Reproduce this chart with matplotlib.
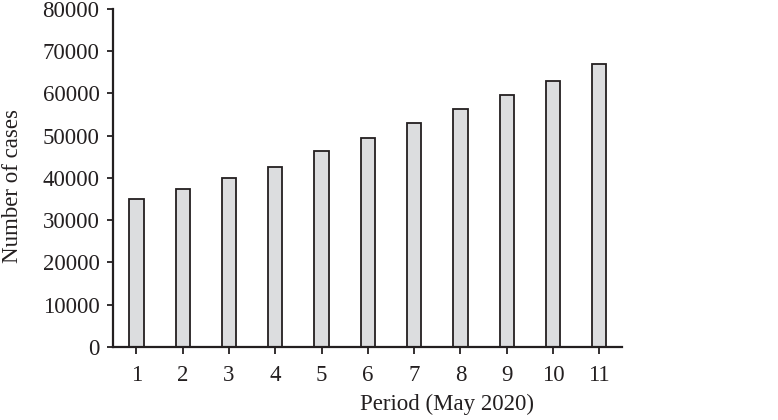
import matplotlib
matplotlib.use("Agg")
import matplotlib.pyplot as plt

periods = [1, 2, 3, 4, 5, 6, 7, 8, 9, 10, 11]
cases = [35000, 37400, 40000, 42600, 46400, 49400, 53000, 56300, 59600, 63000, 67000]
y_ticks = [0, 10000, 20000, 30000, 40000, 50000, 60000, 70000, 80000]

plt.rcParams['font.family'] = ['Liberation Serif', 'DejaVu Serif']

fig = plt.figure(figsize=(7.78, 4.2), dpi=100)
ax = fig.add_axes([0.145, 0.174, 0.655, 0.805])

ax.bar(periods, cases, width=0.31, color='#dcdddf', edgecolor='#231f20', linewidth=1.3)

ax.set_xlim(0.49, 11.5)
ax.set_ylim(0, 80000)
ax.set_yticks(y_ticks)
ax.set_xticks(periods)
ax.set_xticklabels([str(p) for p in periods])

for s in ['top', 'right']:
    ax.spines[s].set_visible(False)
for s in ['left', 'bottom']:
    ax.spines[s].set_linewidth(1.6)
    ax.spines[s].set_color('#231f20')

ax.tick_params(axis='y', direction='out', length=4, width=1.3, labelsize=16.5, pad=5.5, colors='#231f20')
ax.tick_params(axis='x', direction='out', length=5, width=1.3, labelsize=16.5, pad=8, colors='#231f20')

ax.set_xlabel('Period (May 2020)', fontsize=16.5, color='#231f20')
ax.set_ylabel('Number of cases', fontsize=16.5, color='#231f20')
ax.xaxis.set_label_coords(0.656, -0.138)
ax.yaxis.set_label_coords(-0.177, 0.475)

fig.savefig('out.png', dpi=100)
